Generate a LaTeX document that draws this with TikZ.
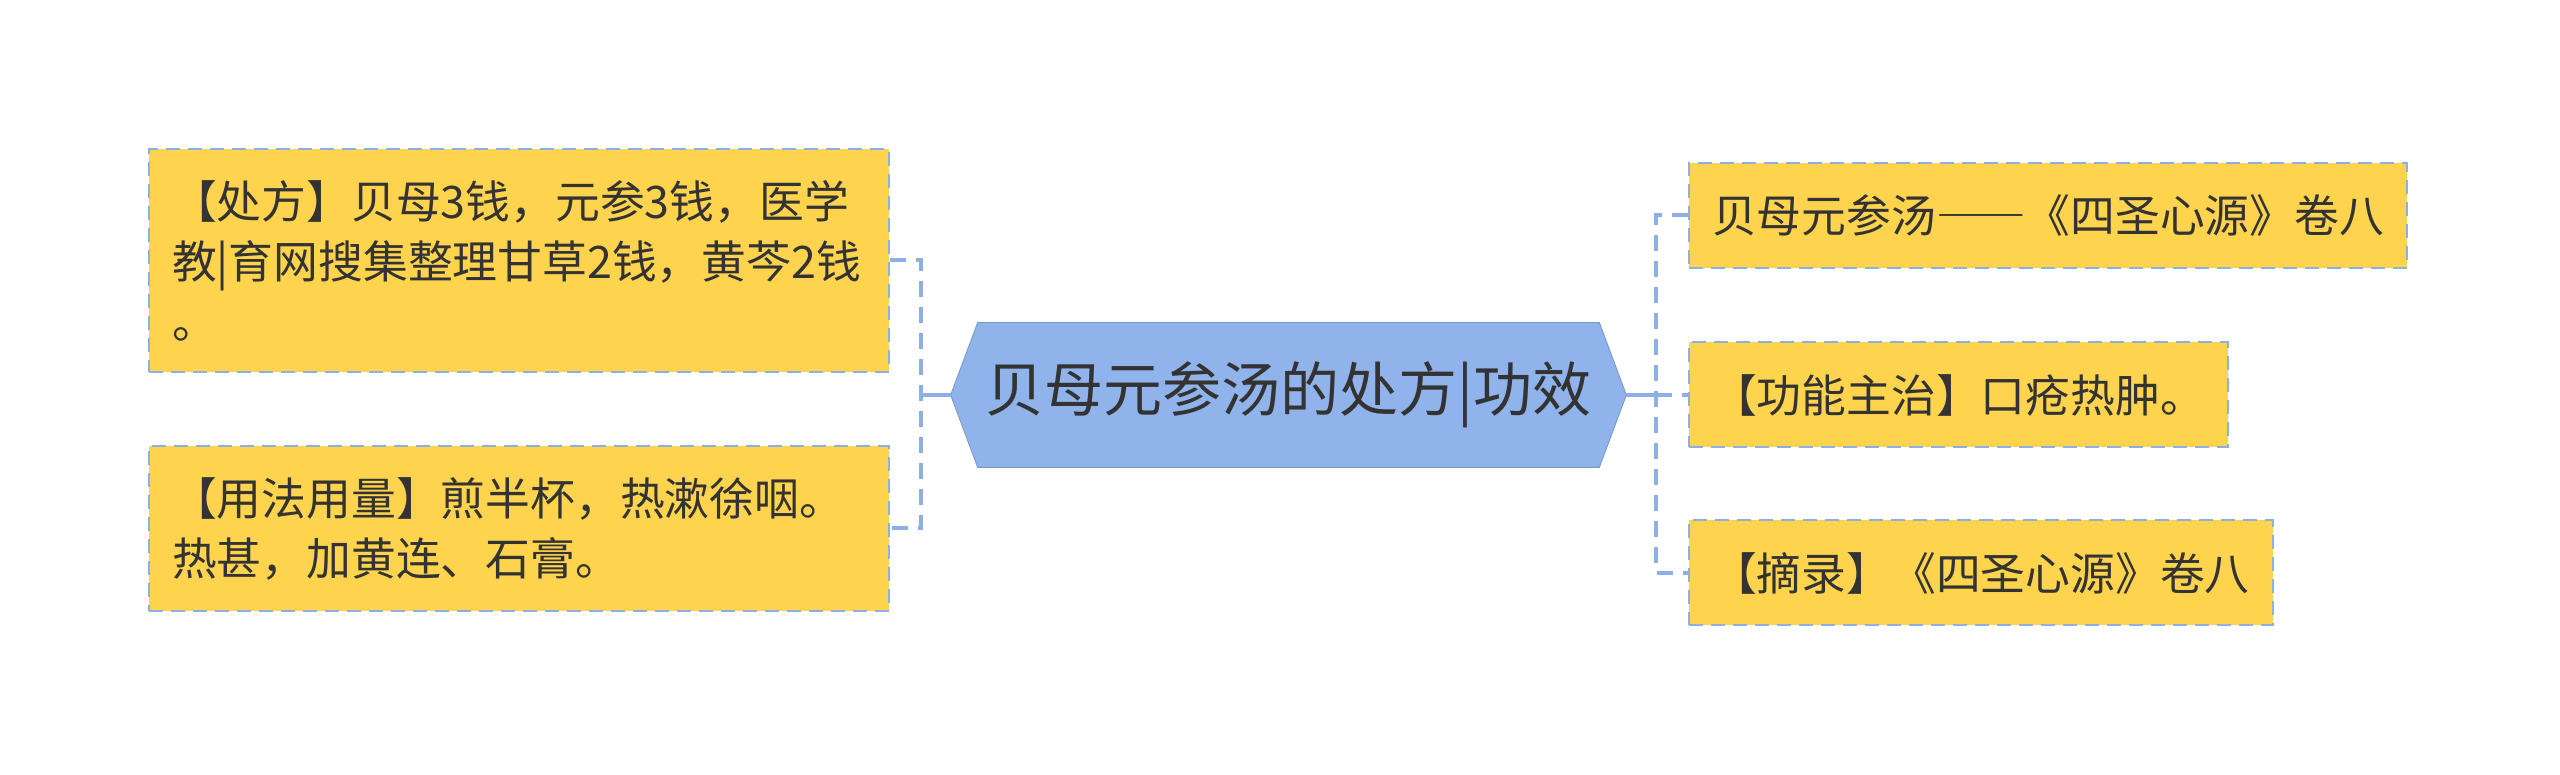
\documentclass[tikz,border=0pt]{standalone}
\usepackage{fontspec}
\setmainfont{Noto Sans CJK SC}
\usetikzlibrary{backgrounds}
\definecolor{boxyellow}{RGB}{254,211,77}
\definecolor{rootblue}{RGB}{143,179,234}
\definecolor{linkblue}{RGB}{140,176,230}
\definecolor{inktext}{RGB}{51,51,51}
\tikzset{
  leaf/.style={draw=linkblue, line width=1pt, dash pattern=on 7pt off 4pt, fill=boxyellow, text=inktext, inner xsep=11.5pt, inner ysep=0pt, font=\fontsize{22.4pt}{30pt}\selectfont},
  leftleaf/.style={leaf, text width=347pt, align=left},
  rightleaf/.style={leaf, minimum height=52.5pt, anchor=west},
  rootnode/.style={minimum width=337.5pt, minimum height=72pt, inner sep=0pt, text=inktext, font=\fontsize{29.5pt}{32pt}\selectfont},
  link/.style={draw=linkblue, line width=2pt, dash pattern=on 8pt off 5pt},
  trunk/.style={draw=linkblue, line width=2pt}
}
\begin{document}
\begin{tikzpicture}[x=0.5pt,y=0.5pt]
				\useasboundingbox (0,0) rectangle (2560,775);
				\node[rootnode] (root) at (1288.5,380) {贝母元参汤的处方|功效};
				\begin{scope}[on background layer]
				\draw[fill=rootblue, draw=rootblue!85!black, line width=0.4pt] (root.west) -- ([xshift=13.5pt]root.north west) -- ([xshift=-13.5pt]root.north east) -- (root.east) -- ([xshift=-13.5pt]root.south east) -- ([xshift=13.5pt]root.south west) -- cycle;
				\end{scope}
				\node[leftleaf, minimum height=111.5pt] (recipe) at (519,514.5) {【处方】贝母3钱，元参3钱，医学\\教|育网搜集整理甘草2钱，黄芩2钱\\。};
				\node[leftleaf, minimum height=82.5pt] (usage) at (519,246.5) {【用法用量】煎半杯，热漱徐咽。\\热甚，加黄连、石膏。};
				\node[rightleaf] (origin) at (1688,559.5) {贝母元参汤{\addfontfeature{RawFeature=+fwid}——}《四圣心源》卷八};
				\node[rightleaf] (effect) at (1688,380) {【功能主治】口疮热肿。};
				\node[rightleaf] (excerpt) at (1688,202) {【摘录】《四圣心源》卷八};
				\coordinate (lfork) at (921,380);
				\coordinate (rfork) at (1656,380);
				\draw[trunk] (root.west) -- (lfork);
				\draw[trunk] (root.east) -- (rfork);
				\draw[link] (recipe.east) -| (lfork) |- (usage.east);
				\draw[link] (origin.west) -| (rfork) |- (excerpt.west);
				\draw[link] (rfork) -- (effect.west);
			\end{tikzpicture}
\end{document}
